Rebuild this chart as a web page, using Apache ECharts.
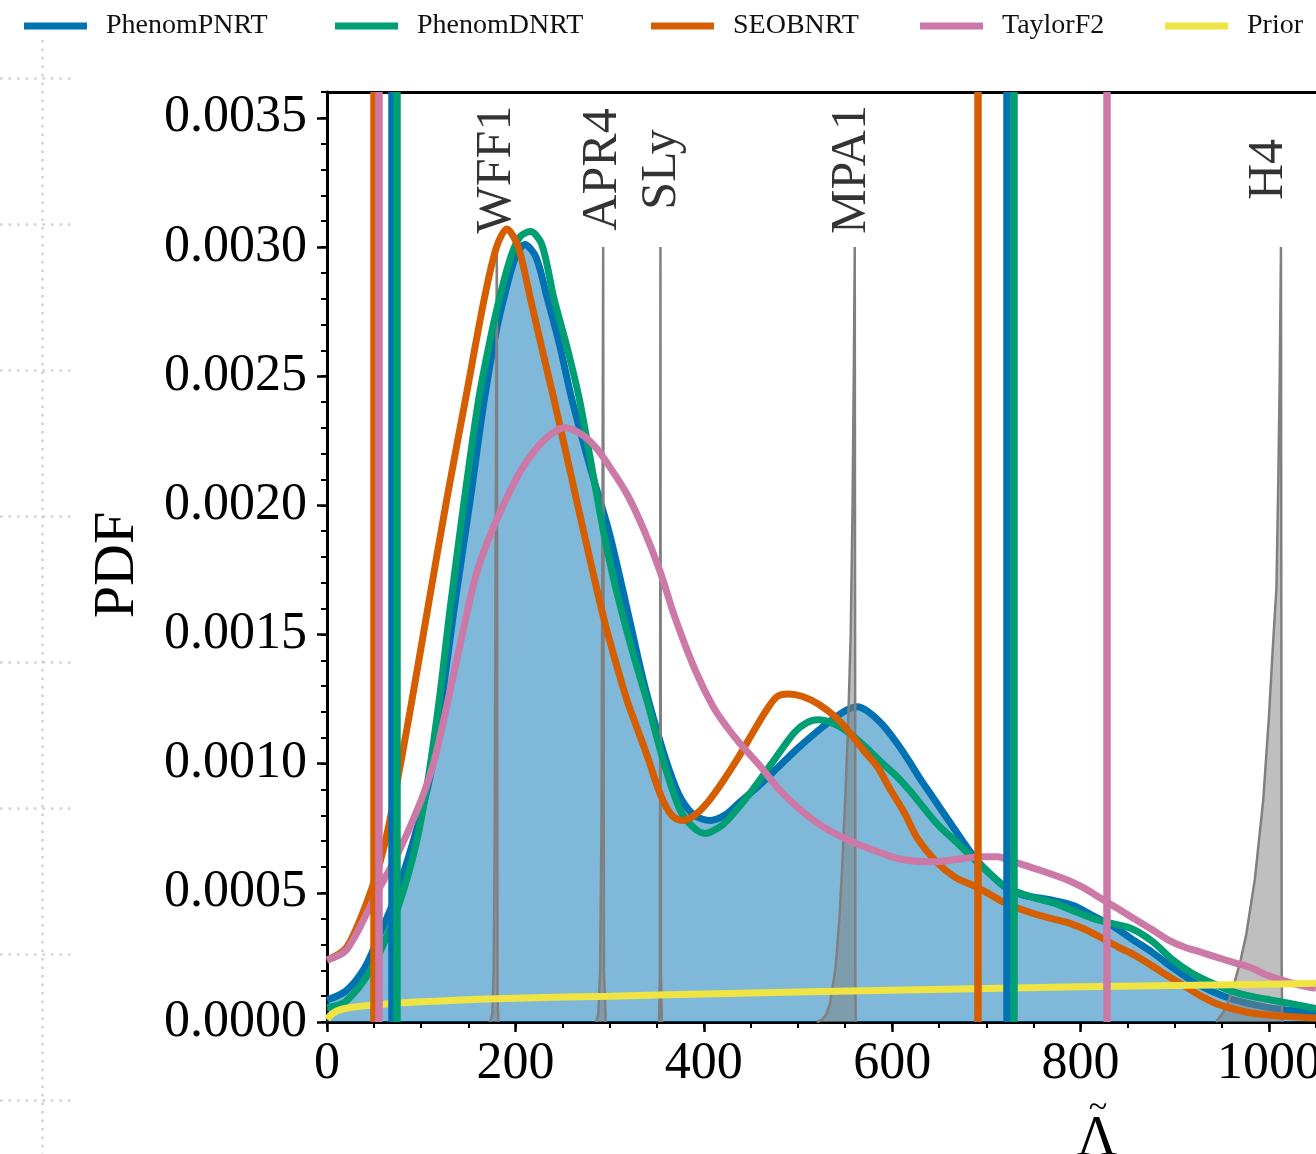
<!DOCTYPE html>
<html>
<head>
<meta charset="utf-8">
<title>Lambda tilde PDF</title>
<script src="https://cdn.jsdelivr.net/npm/echarts@6/dist/echarts.min.js"></script>
<style>
  html, body { margin: 0; padding: 0; background: #fff; }
  #main { width: 1316px; height: 1154px; }
</style>
</head>
<body>
<div id="main"></div>
<script>
// data: [Lambda tilde, PDF]
var phenomP = [[0,0.000085],[20,0.00012],[40,0.00021],[56,0.00034],[71,0.00047],[90,0.00068],[110,0.00096],[125,0.00133],[135,0.00160],[152,0.00202],[167,0.00241],[180,0.00268],[189,0.00282],[200,0.00296],[210,0.00301],[222,0.00296],[234,0.00280],[247,0.00262],[260,0.00241],[280,0.00214],[300,0.00189],[321,0.00156],[336,0.00132],[351,0.00112],[363,0.00098],[375,0.00087],[390,0.00080],[407,0.00078],[422,0.00080],[438,0.00085],[460,0.00092],[480,0.00099],[500,0.00106],[522,0.00113],[540,0.00118],[553,0.00121],[563,0.00122],[575,0.00120],[590,0.00115],[605,0.00108],[618,0.00101],[630,0.00094],[645,0.00086],[660,0.00078],[675,0.00070],[689,0.00063],[705,0.00057],[721,0.00052],[740,0.00049],[756,0.00048],[772,0.00047],[793,0.00045],[814,0.00041],[835,0.00037],[855,0.00032],[876,0.00027],[898,0.00021],[918,0.00016],[939,0.00012],[960,0.00009],[981,0.00007],[1010,0.00005],[1050,0.000035]];
var phenomD = [[0,0.000055],[20,0.00008],[46,0.0002],[71,0.0004],[92,0.00065],[106,0.00091],[120,0.00127],[130,0.00158],[145,0.002],[161,0.00241],[172,0.00262],[183,0.0028],[195,0.00296],[205,0.00304],[216,0.00306],[228,0.00301],[241,0.0028],[255,0.00261],[268,0.00241],[281,0.00215],[294,0.00189],[304,0.00172],[315,0.00156],[327,0.0014],[340,0.00124],[358,0.001],[375,0.00082],[390,0.00075],[402,0.00073],[415,0.00075],[425,0.00078],[450,0.00089],[472,0.001],[496,0.00112],[510,0.00116],[522,0.00117],[535,0.00116],[546,0.00114],[561,0.0011],[576,0.00105],[590,0.001],[605,0.00095],[620,0.00089],[647,0.00077],[670,0.00069],[690,0.00062],[705,0.00057],[721,0.00052],[735,0.0005],[751,0.00048],[772,0.00046],[793,0.00043],[814,0.0004],[835,0.00038],[855,0.00036],[877,0.00031],[898,0.00024],[918,0.00019],[940,0.00015],[960,0.00012],[980,0.0001],[1002,0.000085],[1025,0.00007],[1050,0.000052]];
var seobnrt = [[0,0.00024],[21,0.00029],[46,0.0005],[60,0.00067],[71,0.00086],[88,0.0012],[106,0.00158],[127,0.00202],[147,0.00241],[167,0.0028],[180,0.003],[191,0.00307],[203,0.003],[216,0.0028],[228,0.00261],[241,0.00241],[257,0.00215],[273,0.00189],[294,0.00156],[306,0.0014],[319,0.00124],[330,0.00113],[340,0.00103],[354,0.00088],[366,0.0008],[377,0.00078],[390,0.0008],[404,0.00085],[420,0.00093],[436,0.00102],[452,0.00112],[467,0.00121],[478,0.00126],[490,0.00127],[505,0.00126],[522,0.00123],[540,0.00118],[555,0.00112],[570,0.00105],[584,0.00099],[598,0.0009],[613,0.00081],[627,0.00071],[647,0.00062],[667,0.00056],[685,0.00053],[701,0.0005],[715,0.00047],[730,0.000445],[750,0.00042],[770,0.0004],[790,0.00038],[804,0.00036],[820,0.00033],[840,0.00029],[857,0.00026],[875,0.00022],[892,0.00018],[910,0.00014],[928,0.0001],[945,0.00007],[963,0.00005],[981,0.000035],[1000,0.000027],[1025,0.00002],[1050,0.000015]];
var taylorF2 = [[0,0.00024],[21,0.00028],[53,0.0005],[75,0.00065],[99,0.00085],[113,0.001],[127,0.00122],[146,0.00154],[159,0.00174],[175,0.0019],[191,0.00203],[205,0.00213],[220,0.00221],[236,0.00227],[252,0.0023],[268,0.00228],[284,0.00223],[300,0.00215],[319,0.00204],[337,0.0019],[354,0.00174],[369,0.00157],[390,0.00137],[410,0.00122],[425,0.00114],[438,0.00108],[460,0.00099],[480,0.0009],[503,0.00082],[525,0.00076],[556,0.0007],[584,0.00066],[609,0.00063],[644,0.00062],[670,0.00063],[694,0.00064],[712,0.00064],[729,0.00062],[755,0.00059],[786,0.00055],[803,0.00052],[821,0.00048],[839,0.00044],[857,0.0004],[875,0.00036],[892,0.00032],[910,0.00029],[928,0.00027],[945,0.00025],[963,0.00023],[981,0.00021],[999,0.00018],[1025,0.00015],[1050,0.00013]];
var prior = [[0,0.00001],[5,0.00003],[12,0.000045],[25,0.000056],[50,0.000066],[100,0.000078],[180,0.00009],[300,0.0001],[425,0.00011],[600,0.000123],[800,0.000136],[1000,0.000146],[1050,0.00015]];

// 90% bounds drawn as vertical lines, same order as the waveform names
var waveNames = ['PhenomPNRT', 'PhenomDNRT', 'SEOBNRT', 'TaylorF2'];
var waveColors = ['#0072B2', '#009E73', '#D55E00', '#CC79A7'];
var boundLow = [69, 74, 50, 55];
var boundHigh = [722, 729.5, 691, 828];

// equation of state predictions (grey)
var eosNames = ['WFF1', 'APR4', 'SLy', 'MPA1', 'H4'];
var eosLabelX = [180, 293, 356, 557, 1000];
var eosLabelY = 0.0033;
var wff1 = [[173,0],[175.5,0.00003],[177,0.0002],[178,0.0007],[179,0.0018],[180.3,0.003],[181,0.0001],[182,0]];
var apr4 = [[285.5,0],[288,0.00003],[290,0.0002],[291.5,0.0008],[292.5,0.002],[293.2,0.003],[294,0.0002],[296,0]];
var sly = [[352.5,0],[353.5,0.0002],[354,0.003],[354.5,0.0002],[355.5,0]];
var mpa1 = [[520,0],[526,0.00001],[530,0.00003],[534,0.00007],[540,0.00021],[544,0.0004],[547,0.0006],[550,0.00085],[553,0.00112],[556,0.0015],[558,0.002],[559.5,0.0026],[560.3,0.003],[561,0.0001],[561.5,0]];
var h4 = [[944,0],[952,0.00004],[958,0.00009],[964,0.00016],[970,0.00024],[976,0.00034],[985,0.00055],[994,0.00086],[1000,0.00118],[1004,0.00144],[1008,0.00168],[1010,0.0021],[1011.5,0.0025],[1012.8,0.003],[1013.6,0.0002],[1014.2,0]];
var eosCurves = [wff1, apr4, sly, mpa1, h4];

var xTicks = [0, 200, 400, 600, 800, 1000];
var xMinor = [0,50,100,150,200,250,300,350,400,450,500,550,600,650,700,750,800,850,900,950,1000,1050];
var yTicks = [0, 0.0005, 0.001, 0.0015, 0.002, 0.0025, 0.003, 0.0035];
var yMinor = [0,0.0001,0.0002,0.0003,0.0004,0.0005,0.0006,0.0007,0.0008,0.0009,0.001,0.0011,0.0012,0.0013,0.0014,0.0015,0.0016,0.0017,0.0018,0.0019,0.002,0.0021,0.0022,0.0023,0.0024,0.0025,0.0026,0.0027,0.0028,0.0029,0.003,0.0031,0.0032,0.0033,0.0034,0.0035,0.0036];

var serif = "'Liberation Serif', 'DejaVu Serif', serif";
var myChart = echarts.init(document.getElementById('main'));

var series = [];
var curves = [phenomP, phenomD, seobnrt, taylorF2];

// PhenomPNRT with its shaded area, below the grey EOS
series.push({
    name: 'PhenomPNRT', type: 'line', data: phenomP, smooth: 0.3,
    showSymbol: false, z: 1,
    lineStyle: { color: waveColors[0], width: 7 },
    itemStyle: { color: waveColors[0] },
    areaStyle: { color: waveColors[0], opacity: 0.5 },
    markLine: {
        silent: true, symbol: ['none', 'none'], label: { show: false },
        lineStyle: { color: waveColors[0], width: 7.5, type: 'solid' },
        data: [{ xAxis: boundLow[0] }, { xAxis: boundHigh[0] }]
    }
});

eosCurves.forEach(function (d, i) {
    series.push({
        name: eosNames[i], type: 'line', data: d, showSymbol: false, z: 2,
        lineStyle: { color: '#808080', width: 2.5 },
        areaStyle: { color: '#808080', opacity: 0.5 }
    });
});

for (var i = 1; i < 4; i++) {
    series.push({
        name: waveNames[i], type: 'line', data: curves[i], smooth: 0.3,
        showSymbol: false, z: 3,
        lineStyle: { color: waveColors[i], width: 7 },
        itemStyle: { color: waveColors[i] },
        markLine: {
            silent: true, symbol: ['none', 'none'], label: { show: false },
            lineStyle: { color: waveColors[i], width: 7.5, type: 'solid' },
            data: [{ xAxis: boundLow[i] }, { xAxis: boundHigh[i] }]
        }
    });
}

series.push({
    name: 'Prior', type: 'line', data: prior, smooth: 0.4, showSymbol: false, z: 4,
    lineStyle: { color: '#F0E442', width: 7 },
    itemStyle: { color: '#F0E442' }
});

series.push({
    name: 'eosLabels', type: 'scatter', symbolSize: 0, z: 5, silent: true,
    data: eosNames.map(function (n, i) { return [eosLabelX[i], eosLabelY, n]; }),
    label: {
        show: true, position: 'inside', rotate: 90,
        formatter: function (p) { return p.value[2]; },
        fontFamily: serif, fontSize: 50, color: '#000'
    }
});

var legendLeft = [19, 330, 646, 915, 1160];
var legendNames = ['PhenomPNRT', 'PhenomDNRT', 'SEOBNRT', 'TaylorF2', 'Prior'];
var legends = legendNames.map(function (n, i) {
    return {
        data: [n], left: legendLeft[i], top: 7, icon: 'rect',
        itemWidth: 63, itemHeight: 7, selectedMode: false,
        textStyle: { fontFamily: serif, fontSize: 28, color: '#111', padding: [0, 0, 0, 14] }
    };
});

var dotted = { color: '#d2d2d2', width: 2.5, type: [2.5, 6] };

var option = {
    animation: false,
    backgroundColor: '#fff',
    legend: legends,
    grid: [
        { left: 327, top: 92, right: 0, bottom: 132, outerBoundsMode: 'none', containLabel: false },
        { left: 0, width: 75, top: 78, height: 1022, outerBoundsMode: 'none' },
        { left: 0, width: 75, top: 40, bottom: 0, outerBoundsMode: 'none' }
    ],
    xAxis: [
        {
            type: 'value', gridIndex: 0, min: 0, max: 1050, position: 'bottom',
            axisLine: { lineStyle: { color: '#000', width: 3 } },
            axisTick: { customValues: xTicks, length: 10, lineStyle: { color: '#000', width: 2.5 } },
            axisLabel: {
                customValues: xTicks, fontFamily: serif, fontSize: 52, color: '#000', margin: 16,
                formatter: function (v) { return String(v); }
            },
            splitLine: { show: false }
        },
        {
            type: 'value', gridIndex: 0, min: 0, max: 1050, position: 'bottom',
            axisLine: { show: false },
            axisTick: { customValues: xMinor, length: 6, lineStyle: { color: '#000', width: 2 } },
            axisLabel: { show: false }, splitLine: { show: false }
        },
        {
            type: 'value', gridIndex: 0, min: 0, max: 1050, position: 'top',
            axisLine: { lineStyle: { color: '#000', width: 3 } },
            axisTick: { show: false }, axisLabel: { show: false }, splitLine: { show: false }
        },
        {
            type: 'value', gridIndex: 1, min: 0, max: 1,
            axisLine: { show: false }, axisTick: { show: false }, axisLabel: { show: false },
            splitLine: { show: false }
        },
        {
            type: 'value', gridIndex: 2, min: -42, max: 33, interval: 42,
            axisLine: { show: false }, axisTick: { show: false }, axisLabel: { show: false },
            splitLine: { show: true, showMinLine: false, showMaxLine: false, lineStyle: dotted }
        }
    ],
    yAxis: [
        {
            type: 'value', gridIndex: 0, min: 0, max: 0.0036, position: 'left',
            axisLine: { show: true, lineStyle: { color: '#000', width: 3 } },
            axisTick: { show: true, customValues: yTicks, length: 10, lineStyle: { color: '#000', width: 2.5 } },
            axisLabel: {
                customValues: yTicks, fontFamily: serif, fontSize: 52, color: '#000', margin: 20,
                formatter: function (v) { return v.toFixed(4); }
            },
            splitLine: { show: false }
        },
        {
            type: 'value', gridIndex: 0, min: 0, max: 0.0036, position: 'left',
            axisLine: { show: false },
            axisTick: { show: true, customValues: yMinor, length: 6, lineStyle: { color: '#000', width: 2 } },
            axisLabel: { show: false }, splitLine: { show: false }
        },
        {
            type: 'value', gridIndex: 1, min: 0, max: 7, interval: 1,
            axisLine: { show: false }, axisTick: { show: false }, axisLabel: { show: false },
            splitLine: { show: true, lineStyle: dotted }
        },
        {
            type: 'value', gridIndex: 2, min: 0, max: 1,
            axisLine: { show: false }, axisTick: { show: false }, axisLabel: { show: false },
            splitLine: { show: false }
        }
    ],
    graphic: [
        {
            type: 'text', x: 118, y: 565, rotation: Math.PI / 2,
            style: { text: 'PDF', font: '58px ' + serif, fill: '#000', textAlign: 'center', textVerticalAlign: 'middle' }
        },
        {
            type: 'text', x: 1097, y: 1140,
            style: { text: '\u039B', font: '56px ' + serif, fill: '#000', textAlign: 'center', textVerticalAlign: 'middle' }
        },
        {
            type: 'text', x: 1098, y: 1108,
            style: { text: '~', font: '34px ' + serif, fill: '#000', textAlign: 'center', textVerticalAlign: 'middle' }
        }
    ],
    series: series
};

myChart.setOption(option, true);
</script>
</body>
</html>
